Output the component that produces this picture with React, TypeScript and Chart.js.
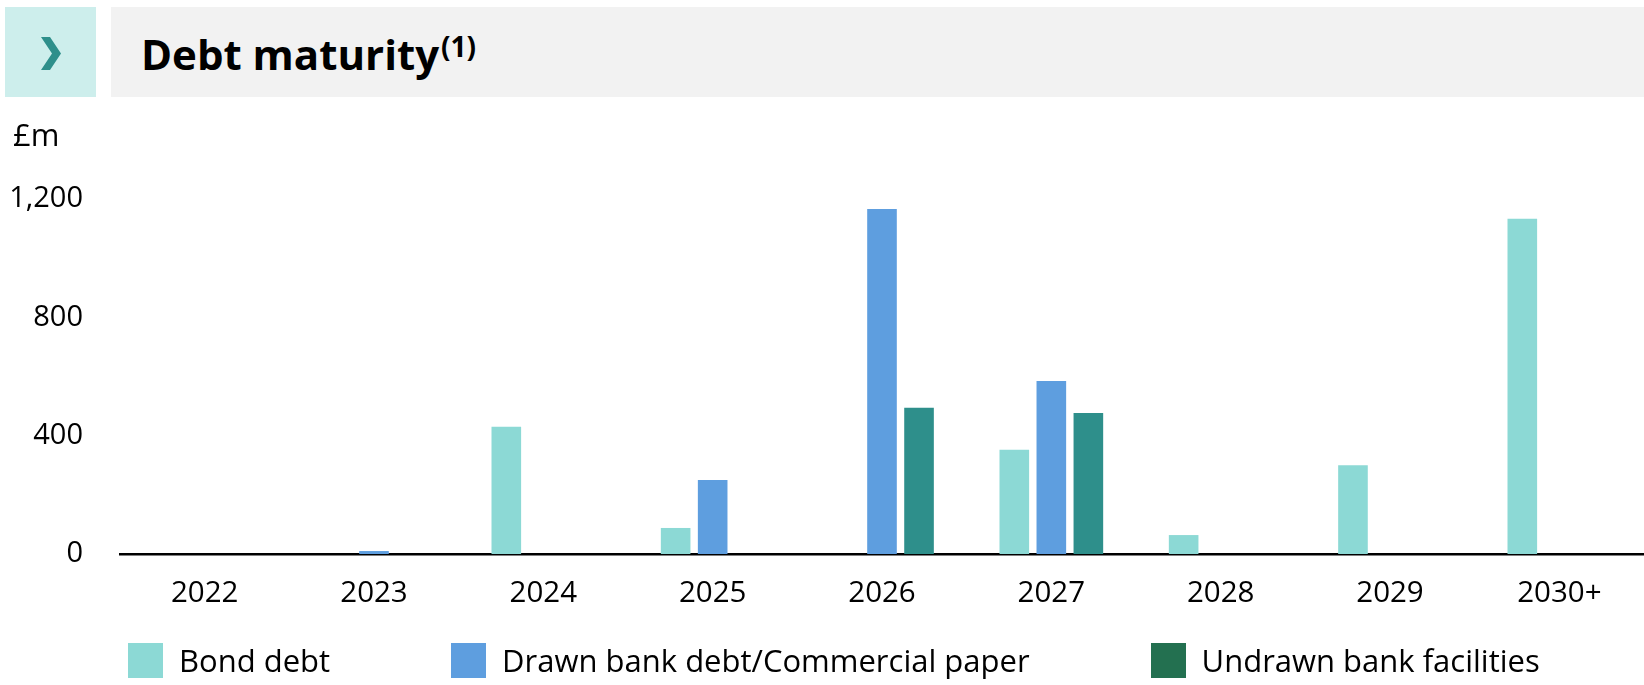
import React, { useEffect, useRef } from "react";
import { Chart, registerables } from "chart.js";

Chart.register(...registerables);

const categories = ["2022", "2023", "2024", "2025", "2026", "2027", "2028", "2029", "2030+"];
const bondDebt = [0, 0, 430, 88, 0, 352, 64, 300, 1133];
const drawnBankDebt = [0, 10, 0, 250, 1166, 585, 0, 0, 0];
const undrawnFacilities = [0, 0, 0, 0, 494, 477, 0, 0, 0];
const yTicks = [0, 400, 800, 1200];

const seriesLabels = ["Bond debt", "Drawn bank debt/Commercial paper", "Undrawn bank facilities"];
const barColors = ["#8CD9D5", "#5E9EDF", "#2E8F8B"];
const legendColors = ["#8CD9D5", "#5E9EDF", "#237050"];

const FONT = "'Open Sans', 'DejaVu Sans', sans-serif";

export default function App() {
  const canvasRef = useRef<HTMLCanvasElement | null>(null);

  useEffect(() => {
    document.body.style.margin = "0";
    document.body.style.overflow = "hidden";
    const canvas = canvasRef.current;
    if (!canvas) return;
    const seriesData = [bondDebt, drawnBankDebt, undrawnFacilities];
    const chart = new Chart(canvas, {
      type: "bar",
      data: {
        labels: categories,
        datasets: seriesData.map((d, i) => ({
          label: seriesLabels[i],
          data: d,
          backgroundColor: barColors[i],
          borderWidth: 0,
          categoryPercentage: 0.656,
          barPercentage: 0.8,
        })),
      },
      options: {
        responsive: false,
        animation: false,
        devicePixelRatio: 1,
        layout: { padding: { top: 199, left: 0, right: 0, bottom: 0 } },
        plugins: {
          legend: { display: false },
          tooltip: { enabled: false },
        },
        scales: {
          x: {
            grid: { display: false, drawTicks: false },
            border: { display: true, color: "#000000", width: 2.5 },
            ticks: {
              color: "#000000",
              font: { family: FONT, size: 29.5 },
              padding: 22,
              maxRotation: 0,
            },
            afterFit: (scale: any) => {
              scale.height = 131;
            },
          },
          y: {
            min: 0,
            max: 1200,
            grid: { display: false, drawTicks: false },
            border: { display: false },
            afterBuildTicks: (scale: any) => {
              scale.ticks = yTicks.map((v) => ({ value: v }));
            },
            ticks: {
              color: "#000000",
              font: { family: FONT, size: 29 },
              padding: 37,
              callback: (v: any) => Number(v).toLocaleString("en-GB"),
            },
            afterFit: (scale: any) => {
              scale.width = 120;
            },
          },
        },
      },
    });
    return () => chart.destroy();
  }, []);

  return (
    <div style={{ position: "relative", width: 1644, height: 685, overflow: "hidden", fontFamily: FONT, background: "#ffffff" }}>
      <canvas ref={canvasRef} width={1644} height={685} style={{ position: "absolute", left: 0, top: 0, width: 1644, height: 685 }} />
      <div style={{ position: "absolute", left: 5, top: 7, width: 91, height: 90, background: "#CDEEEC" }}>
        <svg width={91} height={90} style={{ position: "absolute", left: 0, top: 0 }}>
          <polygon points="36,30 45,30 56,46.5 45,63 36,63 47,46.5" fill="#2E8F8B" />
        </svg>
      </div>
      <div style={{ position: "absolute", left: 111, top: 7, width: 1533, height: 90, background: "#F2F2F2" }} />
      <div style={{ position: "absolute", left: 141, top: 25, fontSize: 42, fontWeight: 700, lineHeight: "57px", color: "#000", whiteSpace: "nowrap" }}>
        Debt maturity
        <span style={{ fontSize: 28, position: "relative", top: -13, marginLeft: 2 }}>(1)</span>
      </div>
      <div style={{ position: "absolute", left: 13, top: 114, fontSize: 31, lineHeight: "40px", color: "#000" }}>£m</div>
      <div style={{ position: "absolute", left: 128, top: 643, display: "flex", alignItems: "center", gap: 121 }}>
        {seriesLabels.map((l, i) => (
          <div key={l} style={{ display: "flex", alignItems: "center" }}>
            <div style={{ width: 35, height: 35, background: legendColors[i], marginRight: 16 }} />
            <span style={{ fontSize: 31, lineHeight: "35px", color: "#000", whiteSpace: "nowrap" }}>{l}</span>
          </div>
        ))}
      </div>
    </div>
  );
}
